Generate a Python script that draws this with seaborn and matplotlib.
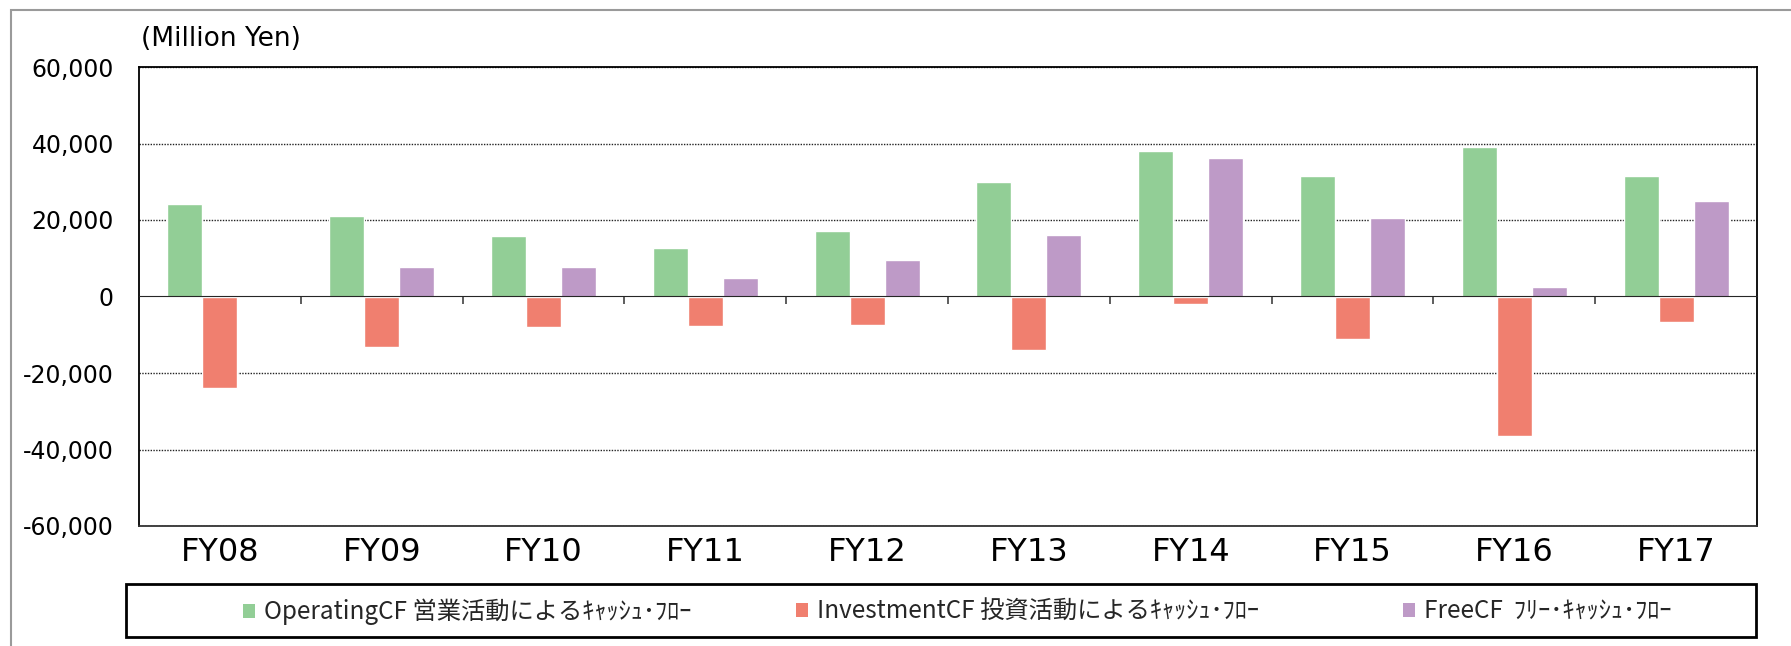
import numpy as np
import pandas as pd
import matplotlib
matplotlib.use('Agg')
import matplotlib.pyplot as plt
import seaborn as sns
from matplotlib.patches import Patch, Rectangle
from matplotlib.ticker import FuncFormatter

# ---- data ----
years = ['FY08', 'FY09', 'FY10', 'FY11', 'FY12', 'FY13', 'FY14', 'FY15', 'FY16', 'FY17']
operating_cf = [24100, 21000, 15800, 12600, 17000, 29900, 38000, 31600, 39000, 31600]
investment_cf = [-24000, -13200, -8000, -7800, -7500, -13900, -1900, -11000, -36600, -6600]
free_cf = [100, 7800, 7800, 4800, 9500, 16000, 36100, 20600, 2400, 25000]
series_labels = ['OperatingCF 営業活動によるｷｬｯｼｭ･ﾌﾛｰ',
                 'InvestmentCF 投資活動によるｷｬｯｼｭ･ﾌﾛｰ',
                 'FreeCF  ﾌﾘｰ･ｷｬｯｼｭ･ﾌﾛｰ']
colors = ['#92CE96', '#F07F6F', '#BE9AC7']
yticks = [-60000, -40000, -20000, 0, 20000, 40000, 60000]
unit_label = '(Million Yen)'

sns.set_style('white')
plt.rcParams['font.family'] = ['DejaVu Sans', 'Noto Sans CJK JP']

rows = []
for lab, vals in zip(series_labels, [operating_cf, investment_cf, free_cf]):
    for y, v in zip(years, vals):
        rows.append({'year': y, 'value': v, 'series': lab})
df = pd.DataFrame(rows)

W, H = 1791, 646
fig = plt.figure(figsize=(W / 100, H / 100), dpi=100)
ax = fig.add_axes([139 / W, 1 - 526 / H, (1757 - 139) / W, (526 - 67) / H])

sns.barplot(data=df, x='year', y='value', hue='series', hue_order=series_labels,
            order=years, palette=colors, width=0.65, saturation=1,
            edgecolor='white', linewidth=1, errorbar=None, legend=False, ax=ax)

ax.set_xlim(-0.5, len(years) - 0.5)
ax.set_ylim(yticks[0], yticks[-1])
ax.set_yticks(yticks)
ax.yaxis.set_major_formatter(FuncFormatter(lambda v, p: f'{int(v):,}'))
ax.set_xlabel('')
ax.set_ylabel('')
ax.set_axisbelow(True)
ax.yaxis.grid(True, linestyle=(0, (1, 1)), color='#222222', linewidth=1)
ax.xaxis.grid(False)
for i, t in enumerate(yticks):
    if t == 0:
        ax.get_ygridlines()[i].set_visible(False)
for s in ['left', 'top', 'right', 'bottom']:
    ax.spines[s].set_visible(True)
    ax.spines[s].set_color('black')
    ax.spines[s].set_linewidth(1.3)
ax.spines['bottom'].set_color('#333333')

ax.tick_params(axis='y', length=0, pad=18, labelsize=17, labelcolor='black')
ax.tick_params(axis='x', length=0, pad=8, labelsize=23, labelcolor='black')

# zero line with category-boundary ticks
sec = ax.secondary_xaxis(0.5)
bounds = [i + 0.5 for i in range(len(years) - 1)]
sec.set_xticks(bounds, labels=[''] * len(bounds))
sec.tick_params(direction='in', length=6, width=1.3, color='#505050')
sec.spines['bottom'].set_color('#808080')
sec.spines['bottom'].set_linewidth(2)
sec.set_zorder(5)

fig.text(141 / W, 1 - 39 / H, unit_label, ha='left', va='center', fontsize=19, color='black')

# legend box
fig.add_artist(Rectangle((126 / W, 1 - 637 / H), (1756 - 126) / W, (637 - 584) / H,
                         fill=False, edgecolor='black', linewidth=2, transform=fig.transFigure))
legend_x = [243, 796, 1403]
for lab, c, lx in zip(series_labels, colors, legend_x):
    fig.legend([Patch(facecolor=c, edgecolor='none')], [lab], loc='center left',
               bbox_to_anchor=(lx / W, 1 - 612 / H), frameon=False,
               prop={'family': ['Noto Sans CJK JP'], 'size': 17.5},
               handlelength=0.5, handleheight=0.5, handletextpad=0.35,
               borderpad=0, borderaxespad=0)

# outer frame
fig.add_artist(Rectangle((11 / W, -0.2), 1.2, 1.2 - 10 / H,
                         fill=False, edgecolor='#9a9a9a', linewidth=1.5,
                         transform=fig.transFigure))

fig.savefig('out.png', dpi=100)
